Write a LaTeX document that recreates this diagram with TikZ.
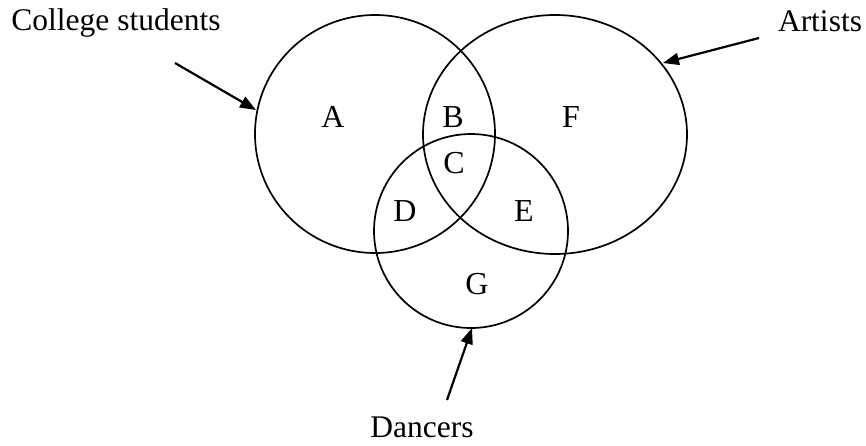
\documentclass[tikz,border=0pt]{standalone}
\usepackage{fontspec}
\setmainfont{Liberation Serif}
\usetikzlibrary{arrows.meta}
\begin{document}
\begin{tikzpicture}[x=1pt,y=-1pt,
  setline/.style={line width=1.7pt},
  pointer/.style={line width=2.2pt,-{Triangle[length=16pt,width=12pt]}},
  lbl/.style={inner sep=0pt,font=\fontsize{31.5}{36}\selectfont},
  region/.style={inner sep=0pt,font=\fontsize{32}{36}\selectfont}]
\useasboundingbox (0,0) rectangle (866,445);
% sets
\draw[setline] (375,134) ellipse (120pt and 119pt);
\draw[setline] (555,134.5) ellipse (132pt and 119.5pt);
\draw[setline] (471,231) circle (97pt);
% region letters
\node[region] (A) at (333,117) {A};
\node[region] (B) at (453,117) {B};
\node[region] (F) at (571,117) {F};
\node[region] (C) at (454,163) {C};
\node[region] (D) at (405,211) {D};
\node[region] (E) at (524,211) {E};
\node[region] (G) at (477,284) {G};
% labels
\node[lbl,anchor=base] (college) at (116,30) {College students};
\node[lbl,anchor=base] (artists) at (820,31) {Artists};
\node[lbl,anchor=base] (dancers) at (422,437) {Dancers};
% arrows
\coordinate (c1) at (175,63);
\coordinate (c2) at (256,110);
\coordinate (a1) at (759,38);
\coordinate (a2) at (663,63);
\coordinate (d1) at (447,400);
\coordinate (d2) at (472,328);
\draw[pointer] (c1) -- (c2);
\draw[pointer] (a1) -- (a2);
\draw[pointer] (d1) -- (d2);
\end{tikzpicture}
\end{document}
